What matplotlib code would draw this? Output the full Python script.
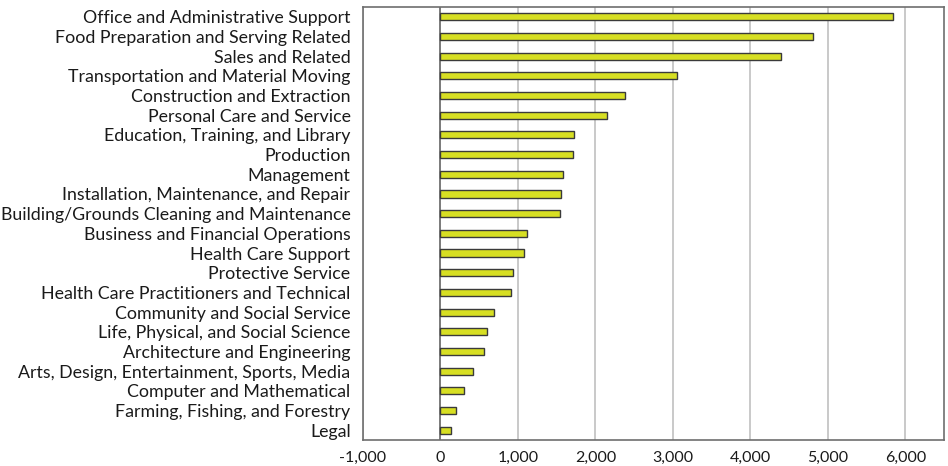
import matplotlib.pyplot as plt
import numpy as np

plt.rcParams['font.family'] = ['Lato', 'DejaVu Sans']

occupations = [
    "Office and Administrative Support",
    "Food Preparation and Serving Related",
    "Sales and Related",
    "Transportation and Material Moving",
    "Construction and Extraction",
    "Personal Care and Service",
    "Education, Training, and Library",
    "Production",
    "Management",
    "Installation, Maintenance, and Repair",
    "Building/Grounds Cleaning and Maintenance",
    "Business and Financial Operations",
    "Health Care Support",
    "Protective Service",
    "Health Care Practitioners and Technical",
    "Community and Social Service",
    "Life, Physical, and Social Science",
    "Architecture and Engineering",
    "Arts, Design, Entertainment, Sports, Media",
    "Computer and Mathematical",
    "Farming, Fishing, and Forestry",
    "Legal",
]
values = [5840, 4810, 4390, 3050, 2380, 2150, 1720, 1715, 1580, 1560, 1540,
          1120, 1080, 930, 915, 690, 600, 560, 420, 300, 200, 140]
xticks = [-1000, 0, 1000, 2000, 3000, 4000, 5000, 6000]

fig = plt.figure(figsize=(9.48, 4.66), dpi=100)
ax = fig.add_axes([363/948, 1 - 440/466, (944 - 363)/948, (440 - 7)/466])

y = np.arange(len(occupations))
ax.barh(y, values, height=0.36, color="#d7df23", edgecolor="#3a3a3a",
        linewidth=1.0, zorder=3)

ax.set_xlim(-1000, 6500)
ax.set_ylim(len(occupations) - 0.5, -0.5)
ax.set_yticks(y)
ax.set_yticklabels(occupations, fontsize=12.8, color="#1a1a1a")
ax.set_xticks(xticks)
ax.set_xticklabels([f"{v:,}" for v in xticks], fontsize=11.5, color="#1a1a1a")
ax.tick_params(axis='both', length=0)
ax.tick_params(axis='y', pad=9)
ax.tick_params(axis='x', pad=8)

ax.grid(axis='x', color="#c0c0c0", linewidth=1.2, zorder=0)
ax.axvline(0, color="#6e6e6e", linewidth=1.2, zorder=2)
for s in ax.spines.values():
    s.set_color("#6e6e6e")
    s.set_linewidth(1.2)

fig.savefig("out.png", dpi=100)
